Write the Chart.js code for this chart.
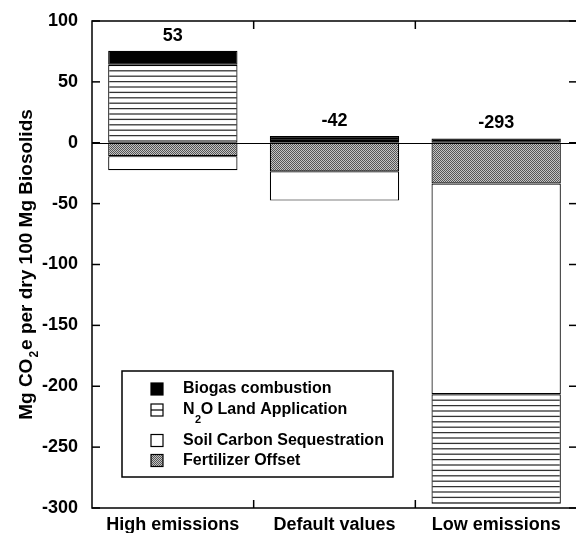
<!doctype html>
<html lang="en">
<head>
<meta charset="utf-8">
<title>Biosolids GHG balance</title>
<script src="https://cdn.jsdelivr.net/npm/chart.js"></script>
<style>
  html, body { margin: 0; padding: 0; background: #fff; overflow: hidden; }
  .wrap { width: 576px; height: 533px; overflow: hidden; }
</style>
</head>
<body>
<div class="wrap"><canvas id="chart" width="580" height="533"></canvas></div>
<script>
// data (Mg CO2e per dry 100 Mg biosolids)
const scenarios = ['High emissions', 'Default values', 'Low emissions'];
const biogas = [11.5, 4, 3.5];
const n2oLand = [64, 1.5, -90];
const soilCarbon = [-11.5, -24, -173];
const fertOffset = [-11, -23.5, -33.5];
const netTotals = [53, -42, -293];
const yMin = -300, yMax = 100, yStep = 50;

const FONT = "'Liberation Sans', Arial, sans-serif";

function hatchPattern() {
  const c = document.createElement('canvas');
  c.width = 4; c.height = 27;
  const g = c.getContext('2d');
  g.fillStyle = '#fff';
  g.fillRect(0, 0, 4, 27);
  g.strokeStyle = '#333';
  g.lineWidth = 1.3;
  for (let k = 0; k < 5; k++) {
    const yy = k * 5.4 + 0.6;
    g.beginPath(); g.moveTo(0, yy); g.lineTo(4, yy); g.stroke();
  }
  return g.createPattern(c, 'repeat');
}

function dotPattern() {
  const c = document.createElement('canvas');
  c.width = 2; c.height = 2;
  const g = c.getContext('2d');
  g.fillStyle = '#c4c4c4';
  g.fillRect(0, 0, 2, 2);
  g.fillStyle = '#555';
  g.fillRect(0, 0, 1, 1);
  g.fillRect(1, 1, 1, 1);
  return g.createPattern(c, 'repeat');
}

const hatch = hatchPattern();
const dots = dotPattern();

function line(ctx, x1, y1, x2, y2) {
  ctx.beginPath(); ctx.moveTo(x1, y1); ctx.lineTo(x2, y2); ctx.stroke();
}

const framePlugin = {
  id: 'frame',
  afterDatasetsDraw(chart) {
    const { ctx, chartArea: a, scales: { x, y } } = chart;
    ctx.save();
    ctx.strokeStyle = '#000';
    ctx.lineWidth = 1;
    const y0 = Math.round(y.getPixelForValue(0)) + 0.5;
    line(ctx, a.left, y0, a.right, y0);
    ctx.lineWidth = 1.5;
    ctx.strokeRect(a.left, a.top, a.right - a.left, a.bottom - a.top);
    y.ticks.forEach(t => {
      const py = y.getPixelForValue(t.value);
      line(ctx, a.left, py, a.left + 8, py);
      line(ctx, a.right - 8, py, a.right, py);
    });
    for (let i = 0; i < scenarios.length - 1; i++) {
      const px = (x.getPixelForValue(i) + x.getPixelForValue(i + 1)) / 2;
      line(ctx, px, a.top, px, a.top + 8);
      line(ctx, px, a.bottom - 8, px, a.bottom);
    }
    ctx.restore();
  },
  afterDraw(chart) {
    const { ctx, chartArea: a, scales: { x, y } } = chart;
    ctx.save();
    ctx.fillStyle = '#000';

    // net totals above each bar
    ctx.font = 'bold 18px ' + FONT;
    ctx.textAlign = 'center';
    ctx.textBaseline = 'alphabetic';
    scenarios.forEach((s, i) => {
      let top = 0;
      chart.data.datasets.forEach(ds => { if (ds.data[i] > 0) top += ds.data[i]; });
      ctx.fillText(String(netTotals[i]), x.getPixelForValue(i), y.getPixelForValue(top) - 10);
    });

    // y axis title with subscript
    ctx.save();
    ctx.translate(32, (a.top + a.bottom) / 2);
    ctx.rotate(-Math.PI / 2);
    ctx.textAlign = 'left';
    const big = 'bold 19px ' + FONT, small = 'bold 12px ' + FONT;
    const parts = [['Mg CO', big, 0], ['2', small, 6], ['e per dry 100 Mg Biosolids', big, 0]];
    let w = 0;
    parts.forEach(p => { ctx.font = p[1]; w += ctx.measureText(p[0]).width + (p[1] === small ? 2 : 0); });
    let cx = -w / 2;
    parts.forEach(p => {
      ctx.font = p[1];
      ctx.fillText(p[0], cx + (p[1] === small ? 1 : 0), p[2]);
      cx += ctx.measureText(p[0]).width + (p[1] === small ? 2 : 0);
    });
    ctx.restore();

    // legend box
    const bx = 122, by = 371, bw = 271, bh = 106;
    ctx.strokeStyle = '#000';
    ctx.lineWidth = 1.5;
    ctx.strokeRect(bx, by, bw, bh);
    const rows = [
      { y: 389, fill: '#000', label: 'Biogas combustion' },
      { y: 410, fill: '#fff', label: 'N2O Land Application', mid: true },
      { y: 440.5, fill: '#fff', label: 'Soil Carbon Sequestration' },
      { y: 460.5, fill: dots, label: 'Fertilizer Offset' }
    ];
    const sx = 151, ss = 12, tx = 183;
    ctx.textBaseline = 'middle';
    ctx.textAlign = 'left';
    rows.forEach(r => {
      ctx.fillStyle = r.fill;
      ctx.fillRect(sx, r.y - ss / 2, ss, ss);
      ctx.lineWidth = 1.2;
      ctx.strokeRect(sx, r.y - ss / 2, ss, ss);
      if (r.mid) line(ctx, sx, r.y, sx + ss, r.y);
      ctx.fillStyle = '#000';
      ctx.font = 'bold 16px ' + FONT;
      if (r.mid) {
        ctx.fillText('N', tx, r.y);
        let nx = tx + ctx.measureText('N').width;
        ctx.font = 'bold 11px ' + FONT;
        ctx.fillText('2', nx + 0.5, r.y + 10);
        nx += ctx.measureText('2').width - 1;
        ctx.font = 'bold 16px ' + FONT;
        ctx.fillText('O Land Application', nx + 1, r.y);
      } else {
        ctx.fillText(r.label, tx, r.y);
      }
    });
    ctx.restore();
  }
};

const common = {
  borderColor: '#000',
  borderWidth: 1.2,
  borderSkipped: false,
  stack: 'net',
  barPercentage: 0.8,
  categoryPercentage: 1
};

new Chart(document.getElementById('chart'), {
  type: 'bar',
  data: {
    labels: scenarios,
    datasets: [
      Object.assign({ label: 'Fertilizer Offset', data: fertOffset, backgroundColor: dots }, common),
      Object.assign({ label: 'Soil Carbon Sequestration', data: soilCarbon, backgroundColor: '#fff' }, common),
      Object.assign({ label: 'N2O Land Application', data: n2oLand, backgroundColor: hatch }, common),
      Object.assign({ label: 'Biogas combustion', data: biogas, backgroundColor: '#000' }, common)
    ]
  },
  options: {
    responsive: false,
    animation: false,
    devicePixelRatio: 1,
    layout: { autoPadding: false, padding: { top: 21, right: 3, left: 0, bottom: 0 } },
    plugins: { legend: { display: false }, tooltip: { enabled: false } },
    scales: {
      x: {
        stacked: true,
        grid: { display: false, drawTicks: false },
        border: { display: false },
        ticks: { color: '#000', padding: 6, maxRotation: 0, font: { family: FONT, size: 18, weight: 'bold' } },
        afterFit(s) { s.height = 25; s.paddingLeft = 0; s.paddingRight = 0; }
      },
      y: {
        stacked: true,
        min: yMin,
        max: yMax,
        grid: { display: false, drawTicks: false },
        border: { display: false },
        ticks: { stepSize: yStep, color: '#000', padding: 14, font: { family: FONT, size: 18, weight: 'bold' } },
        afterFit(s) { s.width = 92; s.paddingTop = 0; s.paddingBottom = 0; }
      }
    }
  },
  plugins: [framePlugin]
});
</script>
</body>
</html>
